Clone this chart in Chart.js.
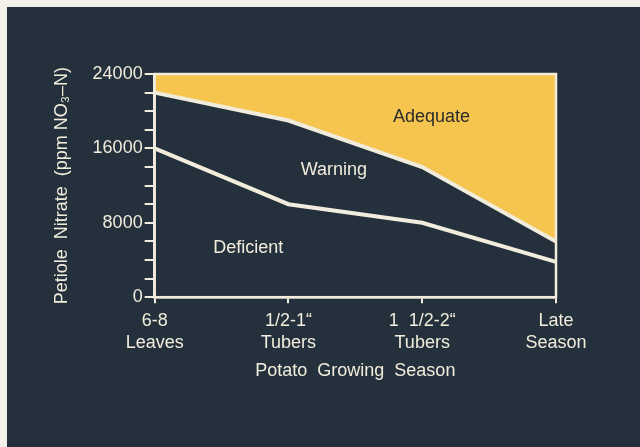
<!DOCTYPE html>
<html>
<head>
<meta charset="utf-8">
<script src="https://cdn.jsdelivr.net/npm/chart.js@4"></script>
<style>
  html, body { margin: 0; padding: 0; background: #f4f1ea; }
  #wrap { position: absolute; left: 7px; top: 7px; width: 633px; height: 440px; background: #24313c; }
</style>
</head>
<body>
<div id="wrap"><canvas id="chart"></canvas></div>
<script>
// growth stages along the season
const stages = [['6-8', 'Leaves'], ['1/2-1\u201C', 'Tubers'], ['1  1/2-2\u201C', 'Tubers'], ['Late', 'Season']];
// boundary between warning and adequate
const upperLimit = [22000, 19000, 14000, 6000];
// boundary between deficient and warning
const lowerLimit = [16000, 10000, 8000, 3800];
// zone labels: [text, stage index, ppm]
const zoneNames = ['Adequate', 'Warning', 'Deficient'];
const zoneStage = [2.07, 1.34, 0.70];
const zonePpm = [19400, 13650, 5300];

const ink = '#f1ecdc';
const gold = '#f6c54f';
const font = '"Liberation Sans", Arial, Helvetica, sans-serif';
const fs = 18;

// plot frame + zone names
const frameAndZones = {
  id: 'frameAndZones',
  afterDatasetsDraw(chart) {
    const { ctx, chartArea: a, scales } = chart;
    ctx.save();
    ctx.strokeStyle = ink;
    ctx.lineWidth = 2.5;
    ctx.strokeRect(a.left, a.top, a.right - a.left, a.bottom - a.top);
    ctx.font = fs + 'px ' + font;
    ctx.textAlign = 'center';
    ctx.textBaseline = 'middle';
    zoneNames.forEach((n, i) => {
      ctx.fillStyle = i === 0 ? '#2b2b2b' : ink;
      ctx.fillText(n, scales.x.getPixelForValue(zoneStage[i]), scales.y.getPixelForValue(zonePpm[i]));
    });
    ctx.restore();
  }
};

new Chart(document.getElementById('chart'), {
  type: 'line',
  data: {
    labels: stages,
    datasets: [
      {
        data: upperLimit,
        borderColor: ink,
        borderWidth: 4,
        backgroundColor: gold,
        fill: 'end',
        pointRadius: 0,
        tension: 0
      },
      {
        data: lowerLimit,
        borderColor: ink,
        borderWidth: 4,
        fill: false,
        pointRadius: 0,
        tension: 0
      }
    ]
  },
  options: {
    responsive: true,
    maintainAspectRatio: false,
    animation: false,
    layout: { padding: { left: 38, right: 84, top: 67, bottom: 63 } },
    plugins: { legend: { display: false }, tooltip: { enabled: false } },
    scales: {
      x: {
        offset: false,
        border: { color: ink, width: 2.5 },
        grid: { drawOnChartArea: false, color: ink, lineWidth: 2, tickLength: 6 },
        ticks: { color: ink, font: { family: font, size: fs }, maxRotation: 0, padding: 7, lineHeight: 1.2 },
        title: {
          display: true,
          text: 'Potato  Growing  Season',
          color: ink,
          font: { family: font, size: fs },
          padding: { top: 0, bottom: 2 }
        }
      },
      y: {
        min: 0,
        max: 24000,
        border: { color: ink, width: 2.5 },
        grid: { drawOnChartArea: false, color: ink, lineWidth: 2, tickLength: 10 },
        ticks: {
          stepSize: 2000,
          autoSkip: false,
          color: ink,
          font: { family: font, size: fs },
          padding: 2,
          callback: v => (v % 8000 === 0 ? String(v) : '')
        },
        title: {
          display: true,
          text: 'Petiole  Nitrate  (ppm NO\u2083\u2013N)',
          color: ink,
          font: { family: font, size: fs },
          padding: { top: 6, bottom: 18 }
        }
      }
    }
  },
  plugins: [frameAndZones]
});
</script>
</body>
</html>
